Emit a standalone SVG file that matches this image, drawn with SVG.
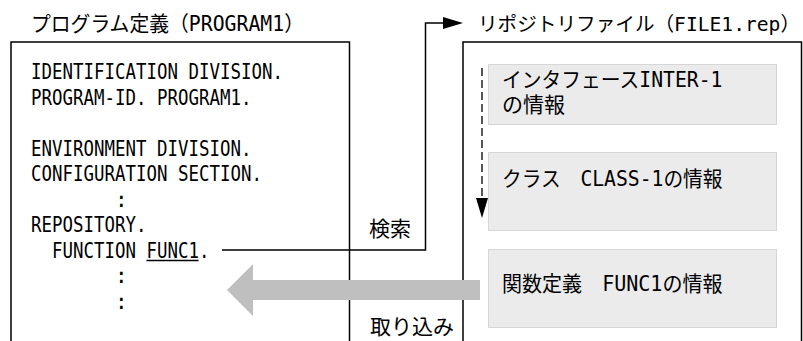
<svg xmlns="http://www.w3.org/2000/svg" width="803" height="341" viewBox="0 0 803 341">
<style>
.t{font-family:"DejaVu Sans Mono","Noto Sans CJK JP",monospace;font-size:21px;fill:#000}
.frame{fill:none;stroke:#000;stroke-width:1.5}
.info{fill:#ebebeb;stroke:#d6d6d6;stroke-width:1}
.conn{fill:none;stroke:#000;stroke-width:1.5}
</style>
<defs>
<marker id="tri" markerUnits="userSpaceOnUse" markerWidth="20" markerHeight="12" refX="0" refY="6" orient="auto" viewBox="0 0 20 12">
<path d="M0,0 L20,6 L0,12 Z" fill="#000"/>
</marker>
</defs>
<rect width="803" height="341" fill="#fff"/>

<g id="program">
<text class="t" x="31" y="31" textLength="273" lengthAdjust="spacingAndGlyphs">プログラム定義（PROGRAM1）</text>
<path class="frame" d="M11,345 V42 H349.5 V345"/>
<text class="t" x="31" y="79" textLength="252" lengthAdjust="spacingAndGlyphs">IDENTIFICATION DIVISION.</text>
<text class="t" x="31" y="104.5" textLength="220.5" lengthAdjust="spacingAndGlyphs">PROGRAM-ID. PROGRAM1.</text>
<text class="t" x="31" y="155.5" textLength="220.5" lengthAdjust="spacingAndGlyphs">ENVIRONMENT DIVISION.</text>
<text class="t" x="31" y="181" textLength="231" lengthAdjust="spacingAndGlyphs">CONFIGURATION SECTION.</text>
<text class="t" x="115" y="206.5">:</text>
<text class="t" x="31" y="232" textLength="115.5" lengthAdjust="spacingAndGlyphs">REPOSITORY.</text>
<text class="t" x="52" y="257.5" textLength="157.5" lengthAdjust="spacingAndGlyphs">FUNCTION FUNC1.</text>
<line x1="146.5" y1="260.5" x2="198.5" y2="260.5" stroke="#000" stroke-width="1.3"/>
<text class="t" x="115" y="283">:</text>
<text class="t" x="115" y="308.5">:</text>
</g>

<g id="repository">
<text class="t" x="478" y="31" style="font-size:19.6px" textLength="322" lengthAdjust="spacingAndGlyphs">リポジトリファイル（FILE1.rep）</text>
<path class="frame" d="M463,345 V42 H801.5 V345"/>
</g>

<g id="info-inter">
<rect class="info" x="488.5" y="64.5" width="288" height="60"/>
<text class="t" x="502" y="87" textLength="220.5" lengthAdjust="spacingAndGlyphs">インタフェースINTER-1</text>
<text class="t" x="502" y="112" textLength="63" lengthAdjust="spacingAndGlyphs">の情報</text>
</g>

<g id="info-class">
<rect class="info" x="488.5" y="152.5" width="288" height="78"/>
<text class="t" x="502" y="186" textLength="220.5" lengthAdjust="spacingAndGlyphs">クラス　CLASS-1の情報</text>
</g>

<g id="info-func">
<rect class="info" x="488.5" y="249.5" width="288" height="78"/>
<text class="t" x="502" y="291" textLength="220.5" lengthAdjust="spacingAndGlyphs">関数定義　FUNC1の情報</text>
</g>

<g id="connectors">
<path class="conn" d="M222,250 H425.5 V23 H443" marker-end="url(#tri)"/>
<text class="t" x="369" y="236" textLength="42" lengthAdjust="spacingAndGlyphs">検索</text>
<path fill="none" stroke="#000" stroke-width="1.3" stroke-dasharray="8 4" d="M482,68 V198"/>
<path d="M476,198 L488,198 L482,218 Z" fill="#000"/>
<path d="M227,290 L253,264 L253,280 L480,280 L480,300 L253,300 L253,316 Z" fill="#bfbfbf"/>
<text class="t" x="370" y="334" textLength="84" lengthAdjust="spacingAndGlyphs">取り込み</text>
</g>
</svg>
